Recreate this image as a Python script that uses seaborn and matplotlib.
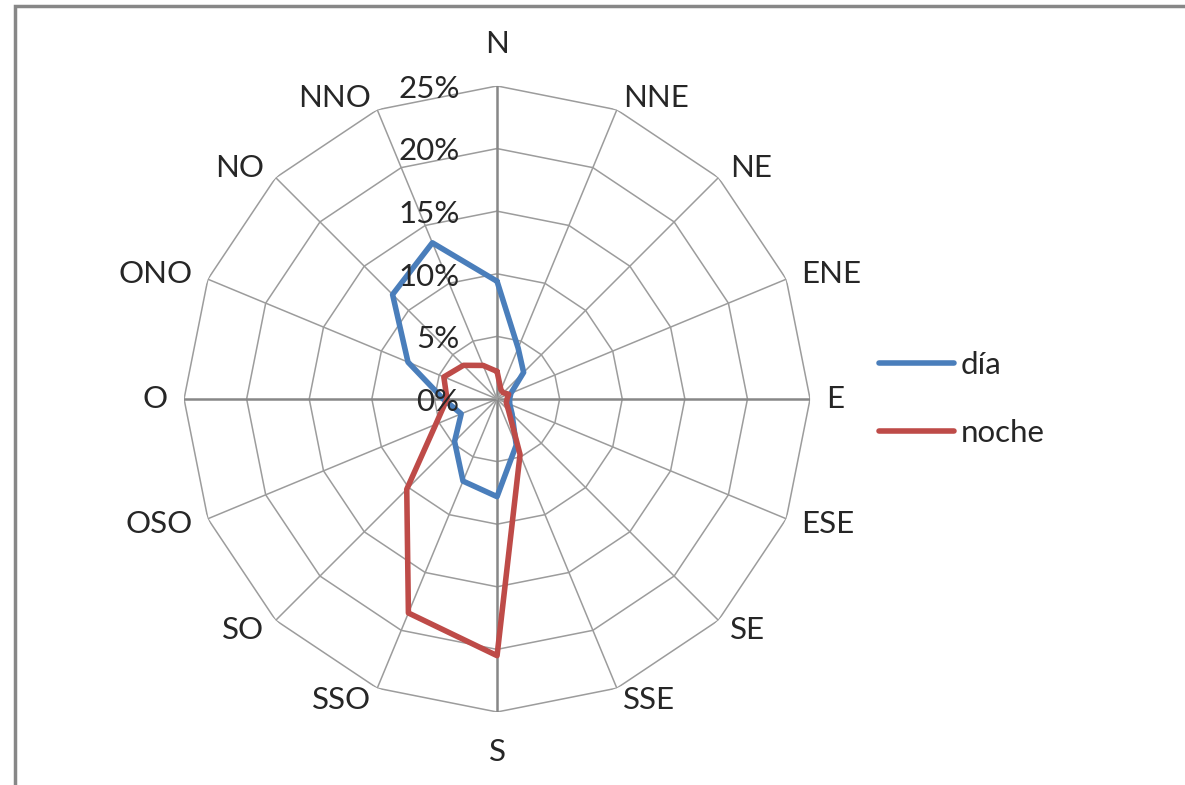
import numpy as np
import pandas as pd
import matplotlib.pyplot as plt
import seaborn as sns
from matplotlib.patches import Rectangle

# rumbos y frecuencias (%)
rumbos = ["N", "NNE", "NE", "ENE", "E", "ESE", "SE", "SSE",
          "S", "SSO", "SO", "OSO", "O", "ONO", "NO", "NNO"]
dia = [9.4, 4.4, 3.0, 1.2, 1.0, 1.1, 1.7, 4.0,
       7.8, 7.1, 4.8, 3.1, 4.3, 7.7, 11.8, 13.5]
noche = [2.2, 0.8, 0.7, 1.0, 0.8, 0.8, 1.3, 4.8,
         20.5, 18.5, 10.2, 5.3, 4.0, 4.6, 3.8, 2.9]
anillos = [0, 5, 10, 15, 20, 25]
anillo_labels = ["0%", "5%", "10%", "15%", "20%", "25%"]

sns.set_style("white")
plt.rcParams["font.family"] = ["Lato", "DejaVu Sans"]
FS = 22.5
PX = 72 / 100  # pixel -> points

theta = np.deg2rad(np.arange(len(rumbos)) * 22.5)
theta_c = np.append(theta, 2 * np.pi)

df = pd.concat([
    pd.DataFrame({"theta": theta_c, "valor": dia + dia[:1], "serie": "día"}),
    pd.DataFrame({"theta": theta_c, "valor": noche + noche[:1], "serie": "noche"}),
])

fig = plt.figure(figsize=(11.85, 7.85), dpi=100)
ax = fig.add_axes([0.1553, 0.0930, 0.5283, 0.7975], polar=True)
ax.set_theta_zero_location("N")
ax.set_theta_direction(-1)
ax.set_ylim(0, 25)
ax.grid(False)
ax.spines["polar"].set_visible(False)
ax.set_yticks([])
ax.set_xticks([])

# rejilla poligonal estilo Excel
for r in anillos[1:]:
    ax.plot(theta_c, [r] * len(theta_c), color="#9c9c9c", lw=1.1, zorder=1)
for i, t in enumerate(theta):
    principal = i % 4 == 0
    ax.plot([t, t], [0, 25], color="#878787" if principal else "#9c9c9c",
            lw=1.8 if principal else 1.1, zorder=1)

sns.lineplot(data=df, x="theta", y="valor", hue="serie",
             palette=["#4A7EBB", "#BE4B48"], sort=False, estimator=None,
             lw=4, ax=ax, zorder=3)
ax.set_xlabel("")
ax.set_ylabel("")

# etiquetas de rumbo junto al anillo exterior
for t, lab in zip(theta, rumbos):
    s, c = np.sin(t), np.cos(t)
    if abs(s) < 1e-6:
        off = (0, 28 if c > 0 else -26)
        ha, va = "center", ("bottom" if c > 0 else "top")
    else:
        off = (16 * s, 13 * c)
        ha, va = ("left" if s > 0 else "right"), "center"
    ax.annotate(lab, xy=(t, 25), xytext=(off[0] * PX, off[1] * PX),
                textcoords="offset points", ha=ha, va=va, fontsize=FS)

for r, lab in zip(anillos, anillo_labels):
    ax.annotate(lab, xy=(0, r), xytext=(-27, -2), textcoords="offset points",
                ha="right", va="center", fontsize=FS, zorder=4)

handles, labels = ax.get_legend_handles_labels()
ax.legend(handles, labels, loc="center left", bbox_to_anchor=(0.729, 0.4917),
          bbox_transform=fig.transFigure, frameon=False, fontsize=FS,
          handlelength=2.4, labelspacing=1.3, borderpad=0, handletextpad=0.2)

# marco del area del grafico
fig.add_artist(Rectangle((15 / 1185, -0.05), 2, 1.0424, transform=fig.transFigure,
                         fill=False, ec="#878787", lw=2.5))

fig.savefig("out.png", dpi=100)
